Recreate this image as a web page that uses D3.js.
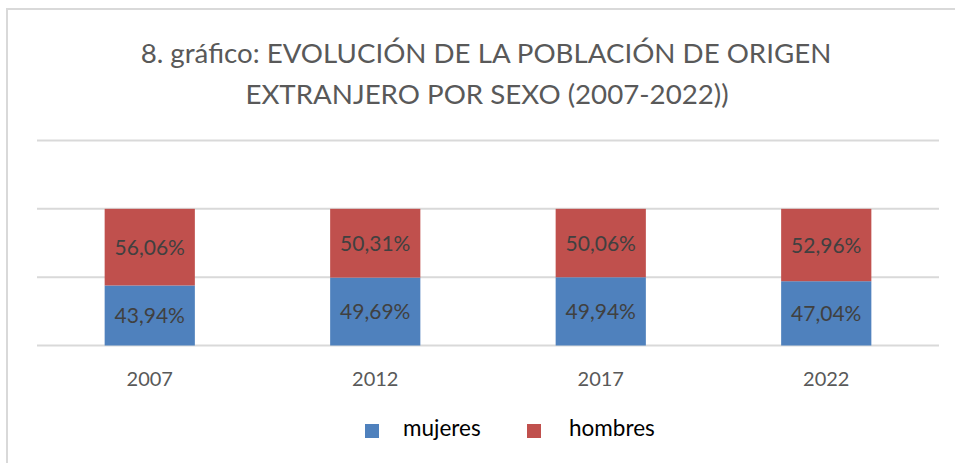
<!DOCTYPE html>
<html>
<head>
<meta charset="utf-8">
<script src="https://cdn.jsdelivr.net/npm/d3@7"></script>
<style>
  body { margin: 0; background: #fff; }
  svg { display: block; font-family: Lato, "Open Sans", sans-serif; }
</style>
</head>
<body>
<svg id="chart" width="955" height="463"></svg>
<script>
// data
const years = ["2007", "2012", "2017", "2022"];
const mujeres = [0.4394, 0.4969, 0.4994, 0.4704];
const hombres = [0.5606, 0.5031, 0.5006, 0.5296];
const gridTicks = [0, 0.5, 1, 1.5];
const seriesNames = ["mujeres", "hombres"];
const seriesColors = ["#4F81BD", "#C0504D"];

const svg = d3.select("#chart"),
    margin = { top: 140, right: 16, bottom: 118, left: 37 },
    width = +svg.attr("width"),
    height = +svg.attr("height");

// outer chart frame (cut off on the right and bottom like the source)
svg.append("rect")
    .attr("x", 7)
    .attr("y", 9)
    .attr("width", 980)
    .attr("height", 480)
    .attr("fill", "none")
    .attr("stroke", "#d9d9d9")
    .attr("stroke-width", 2);

// title
const title = svg.append("text")
    .attr("text-anchor", "middle")
    .attr("fill", "#595959")
    .style("font-size", "27.7px");
title.append("tspan").attr("x", 486).attr("y", 63)
    .text("8. gráfico: EVOLUCIÓN DE LA POBLACIÓN DE ORIGEN");
title.append("tspan").attr("x", 487).attr("y", 104)
    .text("EXTRANJERO POR SEXO (2007-2022))");

const x = d3.scaleBand()
    .domain(years)
    .range([margin.left, width - margin.right])
    .paddingInner(0.6)
    .paddingOuter(0.3);

const y = d3.scaleLinear()
    .domain([0, 1.5])
    .range([height - margin.bottom + 0.5, margin.top + 0.5]);

const color = d3.scaleOrdinal().domain(seriesNames).range(seriesColors);

// gridlines
svg.append("g")
    .selectAll("line")
    .data(gridTicks)
    .join("line")
    .attr("x1", margin.left)
    .attr("x2", width - margin.right)
    .attr("y1", d => y(d))
    .attr("y2", d => y(d))
    .attr("stroke", "#d9d9d9")
    .attr("stroke-width", 2);

// stack the two series
const rows = years.map((yr, i) => ({ year: yr, mujeres: mujeres[i], hombres: hombres[i] }));
const stacked = d3.stack().keys(seriesNames)(rows);

const layers = svg.append("g")
    .selectAll("g")
    .data(stacked)
    .join("g")
    .attr("fill", d => color(d.key));

layers.selectAll("rect")
    .data(d => d)
    .join("rect")
    .attr("x", d => x(d.data.year))
    .attr("width", x.bandwidth())
    .attr("y", d => y(d[1]))
    .attr("height", d => y(d[0]) - y(d[1]));

// data labels
const fmt = v => (v * 100).toFixed(2).replace(".", ",") + "%";
layers.selectAll("text")
    .data(d => d.map(p => ({ p, key: d.key })))
    .join("text")
    .attr("x", d => x(d.p.data.year) + x.bandwidth() / 2)
    .attr("y", d => (y(d.p[0]) + y(d.p[1])) / 2)
    .attr("dy", "0.36em")
    .attr("text-anchor", "middle")
    .attr("fill", "#404040")
    .style("font-size", "21px")
    .text(d => fmt(d.p.data[d.key]));

// category labels
svg.append("g")
    .selectAll("text")
    .data(years)
    .join("text")
    .attr("x", d => x(d) + x.bandwidth() / 2)
    .attr("y", 386)
    .attr("text-anchor", "middle")
    .attr("fill", "#595959")
    .style("font-size", "20px")
    .text(d => d);

// legend
const legend = svg.append("g");
const legendX = [365, 527];
seriesNames.forEach((key, i) => {
    const g = legend.append("g").attr("transform", `translate(${legendX[i]}, 424)`);
    g.append("rect")
        .attr("width", 14)
        .attr("height", 14)
        .attr("fill", color(key));
    g.append("text")
        .attr("x", i === 0 ? 38 : 42)
        .attr("y", 12)
        .attr("fill", "#000")
        .style("font-size", "22.5px")
        .text(key);
});
</script>
</body>
</html>
